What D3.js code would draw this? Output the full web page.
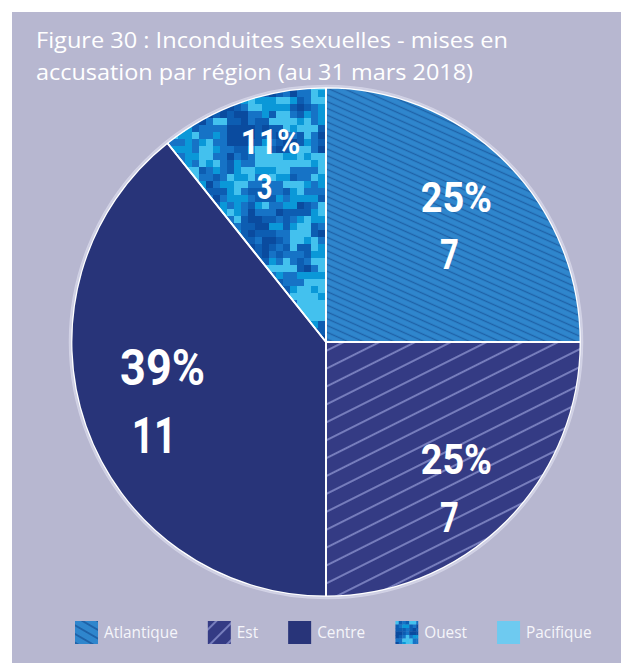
<!DOCTYPE html>
<html>
<head>
<meta charset="utf-8">
<script src="https://cdn.jsdelivr.net/npm/d3@7"></script>
<style>
  html, body { margin: 0; padding: 0; background: #ffffff; }
  svg { display: block; }
</style>
</head>
<body>
<svg id="chart" width="621" height="663"></svg>
<script>
// Sexual misconduct charges by region (as of 31 March 2018)
const regions  = ["Atlantique", "Est", "Centre", "Ouest", "Pacifique"];
const counts   = [7, 7, 11, 3, 0];
const percents = [25, 25, 39, 11, 0];

const titleLines = [
  "Figure 30 : Inconduites sexuelles - mises en",
  "accusation par région (au 31 mars 2018)"
];

// Per-slice label styling: font size, radial factor, baseline offsets of the two lines
const labelSize   = [42, 42, 50, 35];
const labelRadius = [0.7, 0.7, 0.7, 0.7];
const labelDy     = [[-4, 53], [6, 64], [-16, 52], [-20, 25]];

const W = 621, H = 663;
const svg = d3.select("#chart");
const defs = svg.append("defs");

const bg = "#b7b7d0";
const cx = 326, cy = 342, R = 255;

// ---------- fills ----------
function stripePattern(id, fill, stroke, gap, angle, sw) {
  const p = defs.append("pattern")
    .attr("id", id)
    .attr("patternUnits", "userSpaceOnUse")
    .attr("width", 200).attr("height", gap)
    .attr("patternTransform", `rotate(${angle})`);
  p.append("rect").attr("width", 200).attr("height", gap).attr("fill", fill);
  p.append("line").attr("x1", 0).attr("x2", 200)
    .attr("y1", gap / 2).attr("y2", gap / 2)
    .attr("stroke", stroke).attr("stroke-width", sw);
}
stripePattern("fill-atl", "#2f86cd", "#1f62a8", 6.2, 24, 1.3);
stripePattern("fill-est", "#343b84", "#8c93cf", 16, -26.6, 1.6);
stripePattern("leg-atl", "#2f86cd", "#1f62a8", 7.5, 30, 2);
stripePattern("leg-est", "#343b84", "#8c93cf", 12, -45, 1.6);

// deterministic integer hash for the digital camouflage texture
function hash(i, j, s) {
  let n = Math.imul(i, 374761393) + Math.imul(j, 668265263) + Math.imul(s, 1442695041);
  n = Math.imul(n ^ (n >>> 13), 1274126177);
  n = n ^ (n >>> 16);
  return (n >>> 0) / 4294967296;
}
function vnoise(x, y, s) {
  const x0 = Math.floor(x), y0 = Math.floor(y);
  const fx = x - x0, fy = y - y0;
  const a = hash(x0, y0, s), b = hash(x0 + 1, y0, s);
  const c = hash(x0, y0 + 1, s), d = hash(x0 + 1, y0 + 1, s);
  return (a * (1 - fx) + b * fx) * (1 - fy) + (c * (1 - fx) + d * fx) * fy;
}
const camoColors = ["#0a4b9f", "#0d5db2", "#1673c6", "#0a98d8", "#43c1ee"];
function camo(g, x0, y0, w, h, cell, seed) {
  const nx = Math.ceil(w / cell), ny = Math.ceil(h / cell);
  for (let i = 0; i < nx; i++) {
    for (let j = 0; j < ny; j++) {
      const v = 0.5 * vnoise(i / 2.6, j / 2.6, seed)
              + 0.3 * vnoise(i / 1.3, j / 1.3, seed + 7)
              + 0.2 * hash(i, j, seed + 13);
      const k = v < 0.38 ? 0 : v < 0.47 ? 1 : v < 0.55 ? 2 : v < 0.62 ? 3 : 4;
      g.append("rect")
        .attr("x", x0 + i * cell).attr("y", y0 + j * cell)
        .attr("width", cell + 0.3).attr("height", cell + 0.3)
        .attr("fill", camoColors[k]);
    }
  }
}

// ---------- panel & title ----------
svg.append("rect").attr("x", 12).attr("y", 12)
  .attr("width", W - 12).attr("height", H - 12).attr("fill", bg);

function fitText(sel, width) {
  sel.attr("textLength", width).attr("lengthAdjust", "spacingAndGlyphs");
}

const titleW = [472, 437];
titleLines.forEach((t, i) => {
  svg.append("text")
    .attr("x", 36).attr("y", 48 + i * 32)
    .attr("fill", "#ffffff")
    .attr("font-family", "'Open Sans', 'Noto Sans', sans-serif")
    .attr("font-size", 22.5)
    .text(t)
    .call(fitText, titleW[i]);
});

// ---------- pie ----------
const rows = regions.map((r, i) => ({ region: r, count: counts[i], pct: percents[i], i }));
const pie = d3.pie().sort(null).value(d => d.count);
const arcs = pie(rows).filter(d => d.data.count > 0);
const arc = d3.arc().innerRadius(0).outerRadius(R);

const g = svg.append("g").attr("transform", `translate(${cx},${cy})`);

// soft light rim around the disc
g.append("circle").attr("r", R + 1)
  .attr("fill", "none").attr("stroke", "#d3d3e6").attr("stroke-width", 2.5);

const fills = ["url(#fill-atl)", "url(#fill-est)", "#283479", null, "#6ecaf0"];

arcs.forEach(a => {
  const k = a.data.i;
  if (fills[k]) {
    g.append("path").attr("d", arc(a)).attr("fill", fills[k]);
  } else {
    // camouflage-textured slice, clipped to its wedge
    const cp = defs.append("clipPath").attr("id", "clip-" + k);
    cp.append("path").attr("d", arc(a));
    const x0 = -R * Math.sin(2 * Math.PI - a.startAngle) - 10;
    const cg = g.append("g").attr("clip-path", `url(#clip-${k})`);
    camo(cg, Math.floor(x0), -R - 4, Math.abs(x0) + 6, R + 8, 7, 3);
  }
});

// white separators between slices
arcs.forEach(a => {
  g.append("path")
    .attr("d", d3.arc().innerRadius(0).outerRadius(R - 0.5)(a))
    .attr("fill", "none").attr("stroke", "#ffffff").attr("stroke-width", 1.8)
    .attr("stroke-linejoin", "round");
});
// light rim drawn over the outer edge
g.append("circle").attr("r", R + 0.6)
  .attr("fill", "none").attr("stroke", "#cfd0e4").attr("stroke-width", 1.6);

// ---------- value labels ----------
arcs.forEach(a => {
  const k = a.data.i;
  const mid = (a.startAngle + a.endAngle) / 2;
  const r = labelRadius[k] * R;
  const x = r * Math.sin(mid), y = -r * Math.cos(mid);
  const fs = labelSize[k];
  const t1 = g.append("text")
    .attr("x", x + fs * 0.1).attr("y", y + labelDy[k][0])
    .attr("text-anchor", "middle")
    .attr("fill", "#ffffff")
    .attr("font-family", "Roboto, 'Open Sans', sans-serif")
    .attr("font-weight", 700)
    .attr("font-size", fs)
    .text(a.data.pct + "%");
  t1.call(fitText, t1.node().getComputedTextLength() * 0.9);
  const t2 = g.append("text")
    .attr("x", x - fs * 0.07).attr("y", y + labelDy[k][1])
    .attr("text-anchor", "middle")
    .attr("fill", "#ffffff")
    .attr("font-family", "Roboto, 'Open Sans', sans-serif")
    .attr("font-weight", 700)
    .attr("font-size", fs)
    .text(a.data.count);
  t2.call(fitText, t2.node().getComputedTextLength() * 0.78);
});

// ---------- legend ----------
const legendFills = ["url(#leg-atl)", "url(#leg-est)", "#283479", null, "#6ecaf0"];
const leg = svg.append("g").attr("transform", "translate(75,621)");
let lx = 0;
regions.forEach((name, k) => {
  const item = leg.append("g").attr("transform", `translate(${lx},0)`);
  if (legendFills[k]) {
    item.append("rect").attr("width", 23).attr("height", 23).attr("fill", legendFills[k]);
  } else {
    const cp = defs.append("clipPath").attr("id", "leg-clip-" + k);
    cp.append("rect").attr("width", 23).attr("height", 23);
    const cg = item.append("g").attr("clip-path", `url(#leg-clip-${k})`);
    camo(cg, 0, 0, 23, 23, 3.5, 11);
  }
  const t = item.append("text")
    .attr("x", 29).attr("y", 17)
    .attr("fill", "#f5f5fa")
    .attr("font-family", "'Open Sans', 'Noto Sans', sans-serif")
    .attr("font-size", 16)
    .text(name);
  const w = t.node().getComputedTextLength() * 0.96;
  t.call(fitText, w);
  lx += 29 + w + 30;
});
</script>
</body>
</html>
